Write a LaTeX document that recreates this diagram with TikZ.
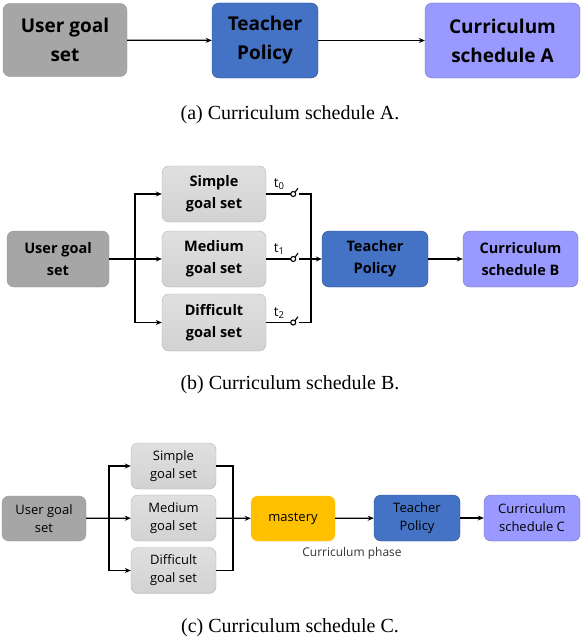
\documentclass[tikz,border=0pt]{standalone}
\usepackage{fontspec}
\setmainfont{Liberation Serif}
\setsansfont{Open Sans}
\usetikzlibrary{arrows.meta,calc}
\tikzset {>=Stealth}
\definecolor{usergray}{HTML}{A6A6A6}
\definecolor{goalgray}{HTML}{D2D2D2}
\definecolor{teachblue}{HTML}{4472C4}
\definecolor{schedblue}{HTML}{9999FF}
\definecolor{mastyellow}{HTML}{FFC000}
\tikzset{
  blk/.style={rounded corners=7pt,align=center,inner sep=0pt},
  user/.style={blk,fill=usergray,draw=usergray!90!black},
  goal/.style={blk,top color=goalgray!70!white,bottom color=goalgray,draw=goalgray!85!black},
  teach/.style={blk,fill=teachblue,draw=teachblue!70!black},
  sched/.style={blk,fill=schedblue,draw=schedblue!75!black},
  mast/.style={blk,fill=mastyellow,draw=mastyellow},
  capt/.style={font=\fontsize{20}{22}\selectfont},
  wire/.style={line width=1.3pt,->,>={Stealth[length=6pt,width=5pt]}}
}

\begin{document}
\begin{tikzpicture}[x=1pt,y=-1pt]
\useasboundingbox (0,0) rectangle (584,642);

% (a)
\begin{scope}[every node/.append style={font=\sffamily\bfseries\fontsize{19}{29}\selectfont}]
\node[user,minimum width=124pt,minimum height=73pt] (ua) at (65,40) {User goal\\set};
\node[teach,minimum width=106pt,minimum height=75pt] (ta) at (265,40.5) {Teacher\\Policy};
\node[sched,minimum width=155pt,minimum height=75pt] (sa) at (502.5,40.5) {Curriculum\\schedule A};
\end{scope}
\draw[wire] (ua) -- (ta);
\draw[wire] (ta) -- (sa);
\node[capt] (capa) at (290,115) {(a) Curriculum schedule A.};

% (b)
\begin{scope}[every node/.append style={font=\sffamily\bfseries\fontsize{14.5}{22}\selectfont,minimum height=56pt}]
\node[user,minimum width=102pt] (ub) at (58,259) {User goal\\set};
\node[goal,minimum width=104pt] (simb) at (214,194) {Simple\\goal set};
\node[goal,minimum width=104pt] (medb) at (214,259) {Medium\\goal set};
\node[goal,minimum width=104pt,minimum height=57pt] (difb) at (214,322.5) {Difficult\\goal set};
\node[teach,minimum width=106pt] (tb) at (375,259) {Teacher\\Policy};
\node[sched,minimum width=115pt] (sb) at (520.5,259) {Curriculum\\schedule B};
\end{scope}
\coordinate (splitb) at (135,259);
\draw[wire] (ub) -- (medb);
\draw[wire] (splitb) |- (simb);
\draw[wire] (splitb) |- (difb);
\coordinate (joinb) at (311,259);
\foreach \g/\t in {simb/0,medb/1,difb/2} {
  \coordinate (sw\t) at ($(\g.east)+(27,0)$);
  \draw[line width=1.1pt] (\g.east) -- ($(sw\t)+(-2.5,0)$);
  \draw[line width=1.1pt] (sw\t) circle(2.5pt);
  \draw[line width=1.1pt] ($(sw\t)+(1.8,-1.8)$) -- ++(3,-4);
  \node[font=\sffamily\fontsize{13.5}{13.5}\selectfont,anchor=south] (t\t) at ($(\g.east)+(13,-0.5)$) {t\textsubscript{\t}};
}
\draw[line width=1.8pt] ($(sw0)+(6,0)$) -| ($(sw2)+(18,0)$) -- ($(sw2)+(6,0)$);
\draw[line width=1.3pt] ($(sw1)+(6,0)$) -- (joinb);
\draw[wire] (joinb) -- (tb);
\draw[wire] (tb) -- (sb);
\node[capt] (capb) at (290,385) {(b) Curriculum schedule B.};

% (c)
\begin{scope}[every node/.append style={font=\sffamily\fontsize{13}{18}\selectfont,minimum height=46pt}]
\node[user,minimum width=84pt,minimum height=45pt] (uc) at (44,518.5) {User goal\\set};
\node[goal,minimum width=85pt] (simc) at (173.5,466) {Simple\\goal set};
\node[goal,minimum width=85pt] (medc) at (173.5,518) {Medium\\goal set};
\node[goal,minimum width=85pt] (difc) at (173.5,570.5) {Difficult\\goal set};
\node[mast,minimum width=84pt,minimum height=45pt] (mc) at (293,518.5) {mastery};
\node[teach,minimum width=86pt] (tc) at (417,518) {Teacher\\Policy};
\node[sched,minimum width=96pt] (sc) at (532,518) {Curriculum\\schedule C};
\end{scope}
\coordinate (splitc) at (109,518);
\coordinate (joinc) at (233,518);
\draw[wire] (uc) -- (medc);
\draw[wire] (splitc) |- (simc);
\draw[wire] (splitc) |- (difc);
\draw[line width=1.3pt] (simc.east) -| (joinc);
\draw[line width=1.3pt] (difc.east) -| (joinc);
\draw[wire] (medc) -- (mc);
\draw[wire] (mc) -- (tc);
\draw[wire] (tc) -- (sc);
\node[font=\sffamily\fontsize{12}{14}\selectfont,text=black!80] (phase) at (352,553) {Curriculum phase};
\node[capt] (capc) at (290,628) {(c) Curriculum schedule C.};
\end{tikzpicture}
\end{document}
